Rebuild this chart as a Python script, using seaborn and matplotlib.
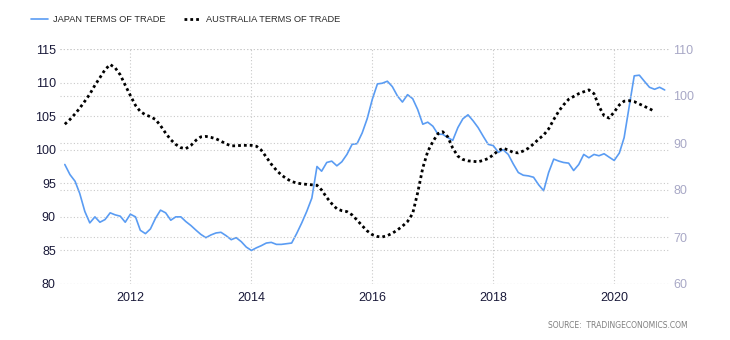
import matplotlib
matplotlib.use("Agg")
import matplotlib.pyplot as plt
import matplotlib.dates as mdates
import pandas as pd
import seaborn as sns

# Monthly index values, first month December 2010
first_month = "2010-12-01"

japan_tot = [
    97.8, 96.3, 95.3, 93.5, 90.8, 89.1, 90.0, 89.2, 89.6, 90.6, 90.3, 90.1,
    89.2, 90.4, 90.0, 88.0, 87.5, 88.2, 89.8, 91.0, 90.6, 89.5, 90.0, 90.0,
    89.3, 88.7, 88.0, 87.4, 86.9, 87.3, 87.6, 87.7, 87.2, 86.6, 86.9, 86.3,
    85.5, 85.0, 85.4, 85.7, 86.1, 86.2, 85.9, 85.9, 86.0, 86.1, 87.5, 89.1,
    90.8, 92.8, 97.5, 96.8, 98.1, 98.3, 97.6, 98.2, 99.3, 100.8, 100.9, 102.5,
    104.6, 107.5, 109.8, 109.9, 110.2, 109.4, 108.0, 107.1, 108.2, 107.6, 106.0, 103.8,
    104.1, 103.5, 102.3, 102.3, 101.8, 101.4, 103.3, 104.6, 105.2, 104.3, 103.3, 102.0,
    100.8, 100.6, 99.6, 100.0, 99.3, 97.9, 96.6, 96.2, 96.1, 95.9, 94.8, 93.9,
    96.6, 98.6, 98.3, 98.1, 98.0, 96.9, 97.8, 99.3, 98.8, 99.3, 99.1, 99.4,
    98.9, 98.4, 99.5, 101.8, 106.5, 111.0, 111.1, 110.2, 109.3, 109.0, 109.3, 108.9,
]

australia_tot = [
    94.0, 95.0, 96.2, 97.4, 98.9, 100.4, 102.3, 103.9, 105.6, 106.7, 106.0, 104.5,
    102.3, 100.1, 98.0, 96.7, 96.0, 95.6, 95.0, 93.7, 92.1, 90.7, 89.7, 89.0,
    88.8, 89.5, 90.6, 91.3, 91.4, 91.2, 90.9, 90.4, 89.8, 89.4, 89.4, 89.5,
    89.5, 89.5, 89.3, 88.5, 87.0, 85.5, 84.2, 83.2, 82.4, 81.8, 81.5, 81.3,
    81.2, 81.1, 81.0, 80.0, 78.4, 77.1, 76.0, 75.6, 75.4, 74.7, 73.6, 72.4,
    71.3, 70.5, 70.1, 70.0, 70.3, 70.8, 71.5, 72.3, 73.3, 75.0, 79.4, 84.7,
    88.2, 90.3, 92.0, 92.4, 91.3, 88.9, 87.2, 86.5, 86.2, 86.1, 86.0, 86.3,
    86.7, 87.5, 88.4, 88.9, 88.5, 88.0, 87.9, 88.3, 88.9, 89.8, 90.8, 91.7,
    93.0, 95.0, 96.8, 98.1, 99.3, 99.9, 100.5, 100.9, 101.3, 100.5, 97.8, 95.8,
    95.3, 96.6, 98.1, 98.9, 99.0, 98.8, 98.3, 97.8, 97.3, 96.7,
]

series_names = ["JAPAN TERMS OF TRADE", "AUSTRALIA TERMS OF TRADE"]
year_ticks = [2012, 2014, 2016, 2018, 2020]
left_ticks = [80, 85, 90, 95, 100, 105, 110, 115]
right_ticks = [60, 70, 80, 90, 100, 110]
source_text = "SOURCE:  TRADINGECONOMICS.COM"

jp = pd.DataFrame({
    "date": pd.date_range(first_month, periods=len(japan_tot), freq="MS"),
    "value": japan_tot,
})
au = pd.DataFrame({
    "date": pd.date_range(first_month, periods=len(australia_tot), freq="MS"),
    "value": australia_tot,
})

sns.set_theme(style="white")
plt.rcParams["font.family"] = ["Liberation Sans", "DejaVu Sans"]

W, H = 730, 340
fig = plt.figure(figsize=(W / 100, H / 100), dpi=100)
ax = fig.add_axes([60 / W, 1 - 284 / H, 609 / W, 235 / H])
ax2 = ax.twinx()

grid_kw = dict(color="#c9c9c9", linestyle=(0, (1, 2)), linewidth=0.8)

sns.lineplot(data=jp, x="date", y="value", ax=ax, color="#5a9cf3",
             linewidth=1.2, legend=False)
sns.lineplot(data=au, x="date", y="value", ax=ax2, color="black",
             linewidth=2.0, linestyle=(0, (1, 1.1)), legend=False)

ax.set_ylim(left_ticks[0], left_ticks[-1])
ax2.set_ylim(right_ticks[0], right_ticks[-1])
ax.set_xlim(pd.Timestamp("2010-11-02"), pd.Timestamp("2020-11-27"))

ax.set_yticks(left_ticks)
ax2.set_yticks(right_ticks)
ax.set_xticks([pd.Timestamp(f"{y}-01-01") for y in year_ticks])
ax.xaxis.set_major_formatter(mdates.DateFormatter("%Y"))

ax.grid(True, axis="both", **grid_kw)
ax2.grid(True, axis="y", **grid_kw)
ax.set_axisbelow(True)
ax2.set_axisbelow(True)

for a in (ax, ax2):
    a.set_xlabel("")
    a.set_ylabel("")
    for s in a.spines.values():
        s.set_visible(False)

ax.tick_params(axis="y", length=0, pad=3, labelsize=9, labelcolor="#1a1a3a")
ax.tick_params(axis="x", length=0, pad=6, labelsize=9, labelcolor="#1a1a3a")
ax2.tick_params(axis="y", length=0, pad=3, labelsize=9, labelcolor="#a8a8c6")

handles = [ax.lines[0], ax2.lines[0]]
fig.legend(handles, series_names, loc="upper left",
           bbox_to_anchor=(31 / W, 1 - 15 / H), ncol=2, frameon=False,
           fontsize=6.7, handlelength=1.85, handletextpad=0.55,
           columnspacing=1.95, borderpad=0, borderaxespad=0,
           labelcolor="#2a2a2a")

fig.text(688 / W, 1 - 325 / H, source_text, ha="right", va="center",
         fontsize=5.5, color="#7f7f7f", family="DejaVu Sans")

fig.savefig("out.png", dpi=100)
